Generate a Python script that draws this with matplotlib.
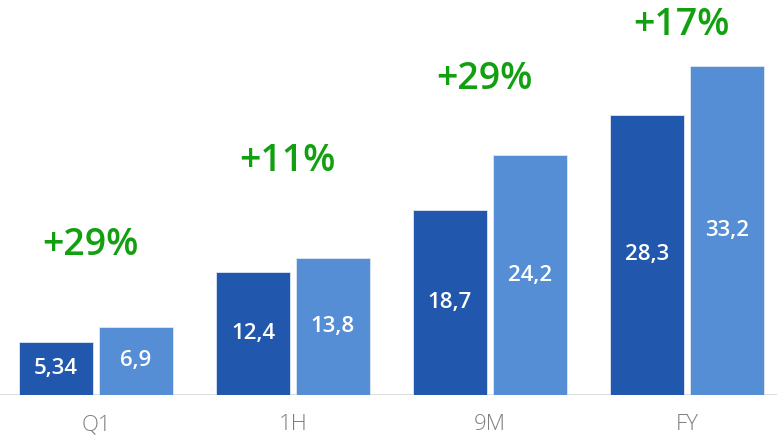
import matplotlib
matplotlib.use("Agg")
import matplotlib.pyplot as plt
import numpy as np

categories = ["Q1", "1H", "9M", "FY"]
prev_values = [5.34, 12.4, 18.7, 28.3]
curr_values = [6.9, 13.8, 24.2, 33.2]
prev_labels = ["5,34", "12,4", "18,7", "28,3"]
curr_labels = ["6,9", "13,8", "24,2", "33,2"]
growth_labels = ["+29%", "+11%", "+29%", "+17%"]
growth_label_y = [14.1, 22.6, 30.9, 36.3]

plt.rcParams['font.family'] = ['Open Sans', 'DejaVu Sans']

fig = plt.figure(figsize=(7.77, 4.43), dpi=100)
ax = fig.add_axes([0, 48 / 443, 1, 395 / 443])

x = np.arange(len(categories))
w = 0.376
off = 0.203
dark = "#2157AC"
light = "#558ED5"
green = "#12A010"

ax.bar(x - off, prev_values, w, color=dark, edgecolor="#dfe7f3", linewidth=0.6, zorder=2)
ax.bar(x + off, curr_values, w, color=light, edgecolor="#dfe7f3", linewidth=0.6, zorder=2)

for i in range(len(categories)):
    ax.text(x[i] - off, prev_values[i] / 2, prev_labels[i], ha="center", va="center",
            color="white", fontsize=16, fontweight="semibold", zorder=3)
    ax.text(x[i] + off, curr_values[i] / 2, curr_labels[i], ha="center", va="center",
            color="white", fontsize=16, fontweight="semibold", zorder=3)
    ax.text(x[i] - 0.03, growth_label_y[i], growth_labels[i], ha="center", va="baseline",
            color=green, fontsize=27, fontweight="semibold", zorder=3)

ax.set_xlim(-0.487, 3.457)
ax.set_ylim(0, 39.86)
ax.axhline(0, color="#d9d9d9", linewidth=2, zorder=1)

for s in ax.spines.values():
    s.set_visible(False)
ax.set_yticks([])
ax.set_xticks(x)
ax.set_xticklabels(categories, fontsize=16, color="#7f7f7f", fontweight="light")
ax.tick_params(axis="x", length=0, pad=14)

fig.savefig("out.png", dpi=100)
